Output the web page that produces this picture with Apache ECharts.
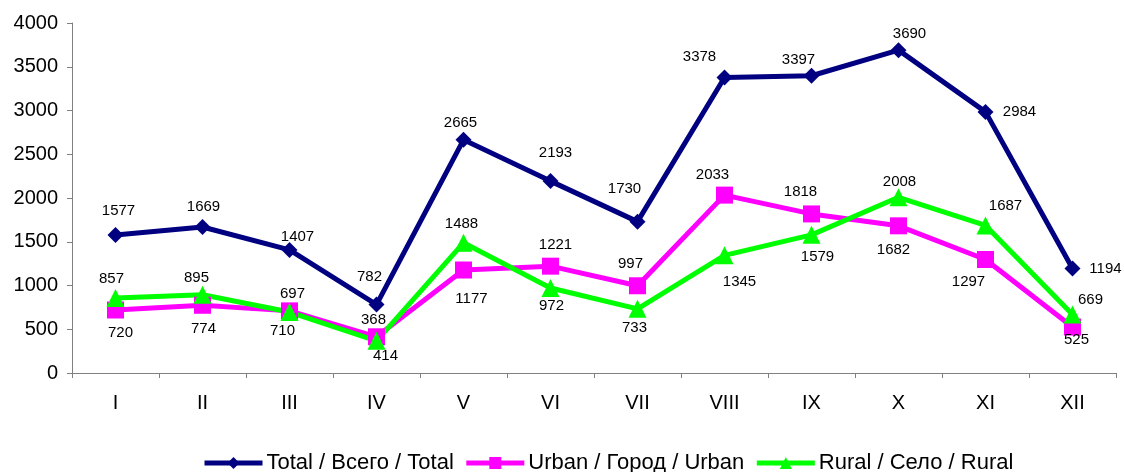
<!DOCTYPE html>
<html>
<head>
<meta charset="utf-8">
<script src="https://cdn.jsdelivr.net/npm/echarts@6/dist/echarts.min.js"></script>
<style>
  html, body { margin: 0; padding: 0; background: #fff; }
  #chart { width: 1124px; height: 472px; }
</style>
</head>
<body>
<div id="chart"></div>
<script>
const months = ["I", "II", "III", "IV", "V", "VI", "VII", "VIII", "IX", "X", "XI", "XII"];
const seriesNames = ["Total / Всего / Total", "Urban / Город / Urban", "Rural / Село / Rural"];
const totalValues = [1577, 1669, 1407, 782, 2665, 2193, 1730, 3378, 3397, 3690, 2984, 1194];
const urbanValues = [720, 774, 710, 414, 1177, 1221, 997, 2033, 1818, 1682, 1297, 525];
const ruralValues = [857, 895, 697, 368, 1488, 972, 733, 1345, 1579, 2008, 1687, 669];

// label placement (pixel offset from the point), like the excel original
const totalLabelOffset = [[3, -24], [1, -20], [8, -13], [-7, -28], [-3, -17], [5, -28],
  [-13, -33], [-25, -21], [-13, -16], [11, -16], [34, 0], [33, 0]];
const urbanLabelOffset = [[5, 23], [1, 24], [-7, 20], [9, 19], [8, 29], [5, -21],
  [-7, -22], [-12, -20], [-11, -22], [-5, 24], [-17, 22], [4, 13]];
const ruralLabelOffset = [[-4, -19], [-6, -17], [3, -18], [-3, -21], [-2, -19], [1, 18],
  [-3, 19], [15, 27], [6, 22], [1, -15], [20, -20], [18, -15]];

const font = "'Liberation Sans', Arial, sans-serif";

function withLabels(values, offsets) {
  return values.map((v, i) => ({ value: v, label: { offset: offsets[i] } }));
}

function lineSeries(name, values, offsets, color, symbol, size) {
  return {
    name: name,
    type: "line",
    data: withLabels(values, offsets),
    symbol: symbol,
    symbolSize: size,
    showAllSymbol: true,
    itemStyle: { color: color },
    lineStyle: { color: color, width: 5 },
    label: {
      show: true,
      position: "inside",
      color: "#000",
      fontSize: 15,
      fontFamily: font,
      textBorderWidth: 0,
    },
    emphasis: { disabled: true },
  };
}

const chart = echarts.init(document.getElementById("chart"));
chart.setOption({
  animation: false,
  textStyle: { fontFamily: font },
  grid: {
    left: 72,
    right: 8,
    top: 23,
    bottom: 99,
  },
  legend: {
    left: 197,
    top: 447,
    itemWidth: 58,
    itemHeight: 15,
    itemGap: 10,
    lineStyle: { width: 5 },
    textStyle: { fontSize: 22, color: "#000", fontFamily: font, padding: [0, 0, 0, -1] },
    data: seriesNames,
  },
  xAxis: {
    type: "category",
    data: months,
    axisLine: { lineStyle: { color: "#808080", width: 1 } },
    axisTick: { show: true, length: 5, lineStyle: { color: "#808080" } },
    axisLabel: { color: "#000", fontSize: 20, fontFamily: font, margin: 20 },
    splitLine: { show: false },
  },
  yAxis: {
    type: "value",
    min: 0,
    max: 4000,
    interval: 500,
    axisLine: { show: true, lineStyle: { color: "#808080", width: 1 } },
    axisTick: { show: true, length: 5, lineStyle: { color: "#808080" } },
    axisLabel: {
      color: "#000",
      fontSize: 20,
      fontFamily: font,
      margin: 14,
      formatter: (v) => String(v),
    },
    splitLine: { show: false },
  },
  series: [
    lineSeries(seriesNames[0], totalValues, totalLabelOffset, "#000080", "diamond", 16),
    lineSeries(seriesNames[1], urbanValues, urbanLabelOffset, "#FF00FF", "rect", 17),
    lineSeries(seriesNames[2], ruralValues, ruralLabelOffset, "#00FF00", "triangle", 18),
  ],
});
</script>
</body>
</html>
